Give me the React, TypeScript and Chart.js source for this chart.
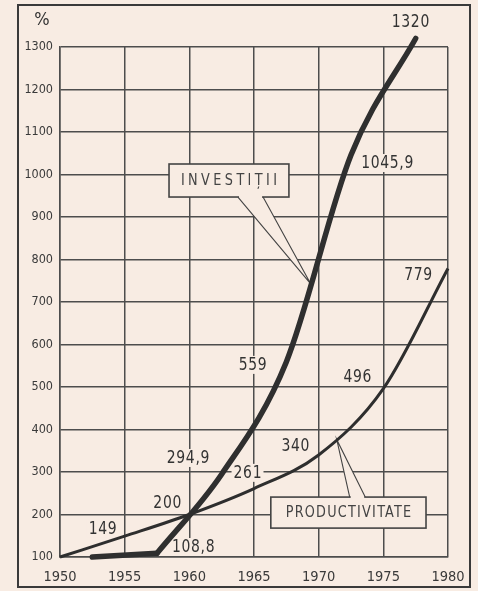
import React, { useEffect, useRef } from "react";
import { Chart, registerables } from "chart.js";

Chart.register(...registerables);

// ---------- data ----------
const PROD_YEARS = [1950, 1955, 1960, 1965, 1970, 1975, 1980];
const PRODUCTIVITATE = [100, 149, 200, 261, 340, 496, 779];
const INV_YEARS = [1952.5, 1957.5, 1962.5, 1967.5, 1972.5, 1977.5];
const INVESTITII = [100, 108.8, 294.9, 559, 1045.9, 1320];
const X_TICKS = [1950, 1955, 1960, 1965, 1970, 1975, 1980];
const Y_TICKS = [100, 200, 300, 400, 500, 600, 700, 800, 900, 1000, 1100, 1200, 1300];
const SERIES_NAMES = ["INVESTIȚII", "PRODUCTIVITATE"];
const Y_UNIT = "%";

// ---------- styles / layout ----------
const BG = "#f8ece3";
const INK = "#333333";
const GRID = "#4d4d4d";
const NARROW = '"Liberation Sans Narrow", "DejaVu Sans Condensed", "Arial Narrow", sans-serif';

// value-label anchors in data units (null = no label)
const INV_LABEL_AT: (number[] | null)[] = [null, [1960.3, 123.5], [1959.9, 333], [1964.9, 552], [1975.3, 1027], [1977.1, 1359]];
const PROD_LABEL_AT: (number[] | null)[] = [null, [1953.3, 166], [1958.3, 227], [1964.5, 298], [1968.2, 361], [1973.0, 523.5], [1977.7, 763.5]];

const fmt = (v: number) => String(v).replace(".", ",");

// draws horizontally-compressed, letter-spaced text centred at (cx, cy); returns drawn width
function drawScaled(
  ctx: CanvasRenderingContext2D,
  text: string,
  cx: number,
  cy: number,
  sx: number,
  spacing: number,
  bg?: string
) {
  ctx.save();
  (ctx as any).letterSpacing = spacing + "px";
  const w = ctx.measureText(text).width - spacing;
  if (bg) {
    const fs = ctx.fillStyle;
    ctx.fillStyle = bg;
    ctx.fillRect(cx - (w * sx) / 2 - 2, cy - 9, w * sx + 4, 18);
    ctx.fillStyle = fs;
  }
  ctx.translate(cx, cy);
  ctx.scale(sx, 1);
  ctx.textAlign = "left";
  ctx.textBaseline = "middle";
  ctx.fillText(text, -w / 2, 0);
  ctx.restore();
  return w * sx;
}

function callout(
  ctx: CanvasRenderingContext2D,
  x: any,
  y: any,
  text: string,
  box: number[],
  baseXs: number[],
  baseY: number,
  tip: number[],
  spacing: number
) {
  const bx0 = x.getPixelForValue(box[0]);
  const bx1 = x.getPixelForValue(box[2]);
  const by0 = y.getPixelForValue(box[1]);
  const by1 = y.getPixelForValue(box[3]);
  const pa = x.getPixelForValue(baseXs[0]);
  const pb = x.getPixelForValue(baseXs[1]);
  const py = y.getPixelForValue(baseY);
  const tx = x.getPixelForValue(tip[0]);
  const ty = y.getPixelForValue(tip[1]);
  ctx.save();
  ctx.fillStyle = BG;
  ctx.beginPath();
  ctx.moveTo(pa, py);
  ctx.lineTo(tx, ty);
  ctx.lineTo(pb, py);
  ctx.closePath();
  ctx.fill();
  ctx.fillRect(bx0, by0, bx1 - bx0, by1 - by0);
  ctx.strokeStyle = "#444";
  ctx.lineWidth = 1.6;
  ctx.strokeRect(bx0, by0, bx1 - bx0, by1 - by0);
  ctx.fillStyle = BG;
  ctx.fillRect(Math.min(pa, pb) + 1, py - 1.5, Math.abs(pb - pa) - 2, 3);
  ctx.lineWidth = 1.1;
  ctx.beginPath();
  ctx.moveTo(pa, py);
  ctx.lineTo(tx, ty);
  ctx.lineTo(pb, py);
  ctx.stroke();
  ctx.fillStyle = "#444";
  ctx.font = `15px ${NARROW}`;
  drawScaled(ctx, text, (bx0 + bx1) / 2, (by0 + by1) / 2 + 1, 0.95, spacing);
  ctx.restore();
}

const decor = {
  id: "decor",
  beforeDraw(chart: any) {
    const { ctx, width, height } = chart;
    ctx.save();
    ctx.fillStyle = BG;
    ctx.fillRect(0, 0, width, height);
    ctx.restore();
  },
  beforeDatasetsDraw(chart: any) {
    const { ctx } = chart;
    const x = chart.scales.x;
    const y = chart.scales.y;
    ctx.save();
    ctx.font = `18px ${NARROW}`;
    ctx.fillStyle = INK;
    const drawLabels = (vals: number[], at: (number[] | null)[]) => {
      vals.forEach((v, i) => {
        const p = at[i];
        if (!p) return;
        drawScaled(ctx, fmt(v), x.getPixelForValue(p[0]), y.getPixelForValue(p[1]), 0.86, 0.8, BG);
      });
    };
    drawLabels(INVESTITII, INV_LABEL_AT);
    drawLabels(PRODUCTIVITATE, PROD_LABEL_AT);
    ctx.restore();

    callout(ctx, x, y, SERIES_NAMES[0], [1958.43, 1024.7, 1967.7, 947], [1963.76, 1965.7], 947, [1969.4, 742], 3.6);
    callout(ctx, x, y, SERIES_NAMES[1], [1966.3, 241, 1978.3, 168], [1972.4, 1973.6], 241, [1971.4, 376], 1.3);
  },
  afterDraw(chart: any) {
    const { ctx } = chart;
    ctx.save();
    ctx.strokeStyle = "#3a3a3a";
    ctx.lineWidth = 2;
    ctx.strokeRect(18, 5, 452, 582);
    ctx.fillStyle = INK;
    ctx.font = `18px ${NARROW}`;
    ctx.textAlign = "center";
    ctx.textBaseline = "middle";
    ctx.fillText(Y_UNIT, 42, 20);
    ctx.restore();
  },
};

export default function App() {
  const ref = useRef<HTMLCanvasElement>(null);
  useEffect(() => {
    document.body.style.margin = "0";
    document.body.style.background = BG;
    const invLow = [0, 1].map((i) => ({ x: INV_YEARS[i], y: INVESTITII[i] }));
    const invHigh = [1, 2, 3, 4, 5].map((i) => ({ x: INV_YEARS[i], y: INVESTITII[i] }));
    const prod = PROD_YEARS.map((yr, i) => ({ x: yr, y: PRODUCTIVITATE[i] }));
    const chart = new Chart(ref.current as HTMLCanvasElement, {
      type: "line",
      data: {
        datasets: [
          {
            label: SERIES_NAMES[1],
            data: prod,
            borderColor: "#2e2e2e",
            borderWidth: 3,
            cubicInterpolationMode: "monotone",
            pointRadius: 0,
            fill: false,
            clip: false as any,
          },
          {
            label: SERIES_NAMES[0],
            data: invLow,
            borderColor: "#2f2f2f",
            borderWidth: 5.5,
            tension: 0,
            pointRadius: 0,
            fill: false,
            borderCapStyle: "round",
            borderJoinStyle: "round",
            clip: false as any,
          },
          {
            label: SERIES_NAMES[0],
            data: invHigh,
            borderColor: "#2f2f2f",
            borderWidth: 5.5,
            cubicInterpolationMode: "monotone",
            pointRadius: 0,
            fill: false,
            borderCapStyle: "round",
            borderJoinStyle: "round",
            clip: false as any,
          },
        ],
      },
      options: {
        animation: false,
        responsive: false,
        devicePixelRatio: 1,
        layout: { padding: { top: 47, right: 30, bottom: 0, left: 0 } },
        plugins: { legend: { display: false }, tooltip: { enabled: false } },
        scales: {
          x: {
            type: "linear",
            min: X_TICKS[0],
            max: X_TICKS[X_TICKS.length - 1],
            afterBuildTicks: (s: any) => {
              s.ticks = X_TICKS.map((v) => ({ value: v }));
            },
            afterFit: (s: any) => {
              s.height = 34;
            },
            ticks: {
              callback: (v: any) => String(v),
              color: "#3a3a3a",
              font: { family: NARROW, size: 14.5 },
              padding: 12,
              maxRotation: 0,
              autoSkip: false,
            },
            grid: { color: GRID, lineWidth: 1.5, drawTicks: false },
            border: { display: true, color: GRID, width: 1.5 },
          },
          y: {
            type: "linear",
            min: Y_TICKS[0],
            max: Y_TICKS[Y_TICKS.length - 1],
            afterBuildTicks: (s: any) => {
              s.ticks = Y_TICKS.map((v) => ({ value: v }));
            },
            afterFit: (s: any) => {
              s.width = 60;
            },
            ticks: {
              callback: (v: any) => String(v),
              color: "#3a3a3a",
              font: { family: NARROW, size: 12.5 },
              padding: 7,
              autoSkip: false,
            },
            grid: { color: GRID, lineWidth: 1.5, drawTicks: false },
            border: { display: true, color: GRID, width: 1.5 },
          },
        },
      },
      plugins: [decor],
    } as any);
    return () => chart.destroy();
  }, []);
  return (
    <div style={{ width: 478, height: 591, background: BG }}>
      <canvas ref={ref} width={478} height={591} style={{ display: "block", width: 478, height: 591 }} />
    </div>
  );
}
